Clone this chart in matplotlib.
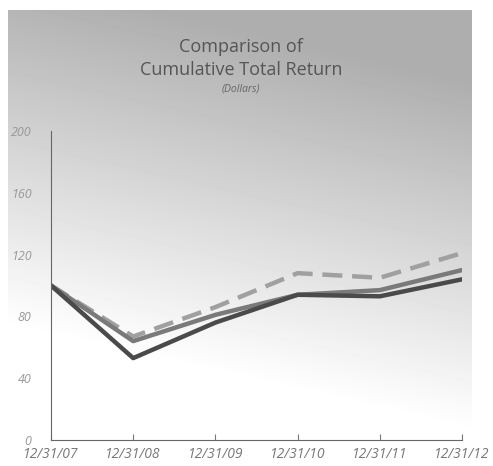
import numpy as np
import matplotlib as mpl
mpl.use('Agg')
import matplotlib.pyplot as plt

# data
dates = ["12/31/07", "12/31/08", "12/31/09", "12/31/10", "12/31/11", "12/31/12"]
company = [100, 53, 76, 94, 93, 104]
index_a = [100, 64, 81, 94, 97, 110]
index_b = [100, 67, 86, 108, 105, 121]
yticks = [0, 40, 80, 120, 160, 200]

plt.rcParams['font.family'] = ['Open Sans', 'DejaVu Sans']

fig = plt.figure(figsize=(4.93, 4.66), dpi=100)

# gradient panel behind the chart
bg = fig.add_axes([0, 0, 1, 1], zorder=0)
bg.set_xlim(0, 493)
bg.set_ylim(466, 0)
bg.axis('off')
yy, xx = np.mgrid[0:456, 0:464]
shade = 0.68 + 0.32 * np.clip((yy / 456.0) * 1.3 + (1 - xx / 464.0) * 0.3 - 0.2, 0, 1)
bg.imshow(shade, cmap='gray', vmin=0, vmax=1, extent=[8, 472, 466, 10], aspect='auto')

ax = fig.add_axes([51 / 493, 26 / 466, 411 / 493, 309 / 466], zorder=1)
ax.patch.set_alpha(0)
x = np.arange(len(dates))
ax.plot(x, index_b, color='#a0a0a0', lw=3.2, dashes=(4.5, 2.2), solid_capstyle='butt')
ax.plot(x, index_a, color='#7a7a7a', lw=3.2)
ax.plot(x, company, color='#4a4a4a', lw=3.2)

ax.set_xlim(0, len(dates) - 1)
ax.set_ylim(0, 200)
ax.set_yticks(yticks)
ax.set_yticklabels([str(v) for v in yticks], style='italic', color='#999999', fontsize=9)
ax.tick_params(axis='y', length=0, pad=14)
ax.set_xticks(x)
ax.set_xticklabels(dates, style='italic', color='#777777', fontsize=10)
ax.tick_params(axis='x', direction='in', length=4, color='#777777', pad=5)
for s in ['top', 'right']:
    ax.spines[s].set_visible(False)
for s in ['left', 'bottom']:
    ax.spines[s].set_color('#666666')
    ax.spines[s].set_linewidth(0.8)

fig.text(241 / 493, 1 - 47 / 466, "Comparison of", ha='center', va='center',
         fontsize=13, color='#555555')
fig.text(241 / 493, 1 - 70 / 466, "Cumulative Total Return", ha='center', va='center',
         fontsize=13, color='#555555')
fig.text(241 / 493, 1 - 89 / 466, "(Dollars)", ha='center', va='center',
         fontsize=7.5, style='italic', color='#666666')

fig.savefig('out.png', dpi=100)
